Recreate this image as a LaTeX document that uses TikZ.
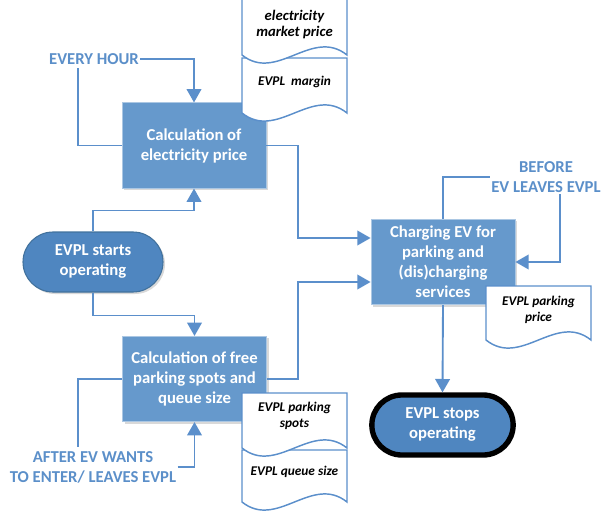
\documentclass[tikz,border=0pt]{standalone}
\usepackage{fontspec}
\setmainfont{Carlito}
\usetikzlibrary{arrows.meta,positioning,calc,shadows,shapes.misc}
\definecolor{evblue}{HTML}{6699CC}
\definecolor{evdark}{HTML}{4F86C0}
\definecolor{evedge}{HTML}{41719C}
\definecolor{evline}{HTML}{5B8FCB}
\definecolor{evtext}{HTML}{5B8FC9}
\tikzset{
  >={Triangle[length=10pt,width=11pt]},
  % boxes
  pbox/.style={rectangle,draw=evblue!55!white,fill=evblue,line width=0.6pt,
               text=white,font=\fontsize{12.5}{15}\selectfont\bfseries,align=center,
               minimum width=108pt,minimum height=64pt,inner sep=2pt,
               drop shadow={shadow xshift=1.5pt,shadow yshift=-1.5pt,opacity=.3}},
  term/.style={rounded rectangle,draw=evedge,fill=evdark,line width=0.8pt,
               text=white,font=\fontsize{12.5}{15}\selectfont\bfseries,align=center,
               minimum width=109pt,minimum height=45pt,inner sep=2pt,
               drop shadow={shadow xshift=1.5pt,shadow yshift=-1.5pt,opacity=.3}},
  termend/.style={term,draw=black,line width=4pt,minimum width=110pt,minimum height=45pt},
  lbl/.style={text=evtext,font=\fontsize{12.5}{15}\selectfont\bfseries,align=center,inner sep=1pt},
  % connectors
  fl/.style={draw=evline,line width=1.4pt},
  % documents
  docl/.style={draw=evline,line width=1.1pt,fill=white},
  dtext/.style={font=\fontsize{10}{12}\selectfont\bfseries\itshape,align=center,inner sep=1pt},
}
\newcommand{\evdoc}[4]{%
  \path[docl] (#1,#4) -- (#1,#2) -- (#3,#2) -- (#3,#4)
    .. controls +(-35,-28) and +(35,28) .. (#1,#4) -- cycle;}

\begin{document}
\begin{tikzpicture}[x=0.75pt,y=-0.75pt]
\useasboundingbox (0,0) rectangle (601,514);
  \node[pbox] (price) at (194,145.5) {Calculation of\\electricity price};
  \node[pbox] (free) at (194.5,379) {Calculation of free\\parking spots and\\queue size};
  \node[pbox] (charge) at (443,262) {Charging EV for\\parking and\\(dis)charging\\services};
  \node[term] (start) at (93,262) {EVPL starts\\operating};
  \node[termend] (stop) at (442.5,425) {EVPL stops\\operating};
  \node[lbl] (hour) at (94,59) {EVERY HOUR};
  \node[lbl] (after) at (93,467) {AFTER EV WANTS\\TO ENTER/ LEAVES EVPL};
  \node[lbl] (before) at (546,177) {BEFORE\\EV LEAVES EVPL};
  \coordinate (hourback) at (78,68);
  \coordinate (afterback) at (78,447);
  % flow
  \draw[fl,->] (hour.east) -| (price.north);
  \draw[fl] (price.west) -| (hourback);
  \draw[fl,->] (start.north) -- ++(0,-21) -| (price.south);
  \draw[fl,->] (start.south) -- ++(0,23) -| (free.north);
  \draw[fl] (free.west) -| (afterback);
  \draw[fl,->] (after.east) -| (free.south);
  \draw[fl,->] (price.east) -- ++(32,0) |- ([yshift=18pt]charge.west);
  \draw[fl,->] (free.east) -- ++(31,0) |- ([yshift=-15pt]charge.west);
  \draw[fl] (before.west) -| (charge.north);
  \draw[fl,->] ([xshift=10.5pt]before.south) |- (charge.east);
  \draw[fl,->] (charge.south) -- (stop.north);
  % data
  \evdoc{242}{58}{347}{113}
  \evdoc{242}{-5}{347}{55}
  \evdoc{486}{286}{591}{340}
  \evdoc{242}{450}{347}{502}
  \evdoc{242}{393}{347}{448}
  \node[dtext,font=\fontsize{11}{12}\selectfont\bfseries\itshape] (mkt) at (294.5,25) {electricity\\market price};
  \node[dtext] (margin) at (294.5,82) {EVPL\ \ margin};
  \node[dtext] (pprice) at (538.5,310) {EVPL parking\\price};
  \node[dtext] (spots) at (294.5,416) {EVPL parking\\spots};
  \node[dtext] (queue) at (294.5,472) {EVPL queue size};
\end{tikzpicture}
\end{document}
